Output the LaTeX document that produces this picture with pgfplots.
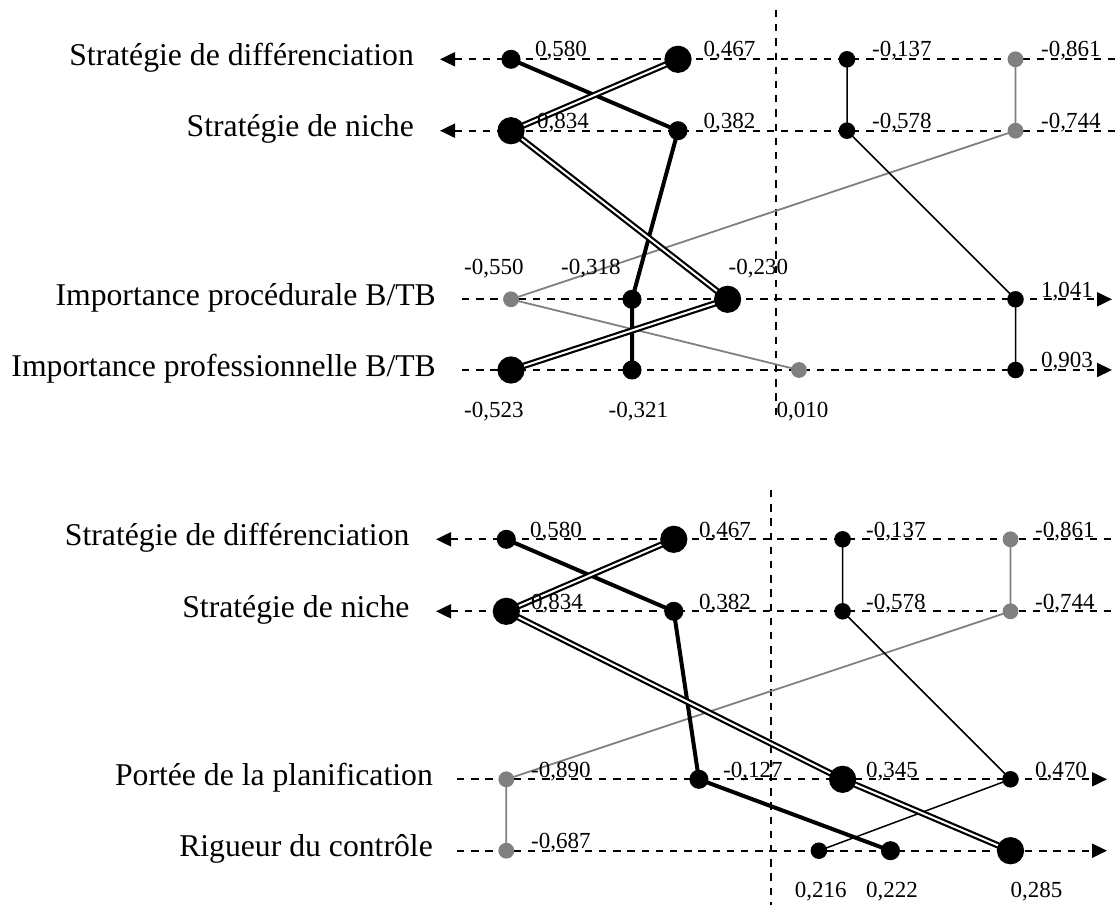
\documentclass[border=0pt]{standalone}
\usepackage{fontspec}
\setmainfont{Liberation Serif}
\usepackage{pgfplots}
\pgfplotsset{compat=1.18}
\usetikzlibrary{arrows.meta}
\definecolor{mgray}{RGB}{128,128,128}
\tikzset{
  dl/.style={line width=2bp, dash pattern=on 7.3bp off 6.9bp},
  arr/.style={-{Triangle[length=15bp,width=14bp]}},
  rarr/.style={{Triangle[length=15bp,width=14bp]}-},
  lab/.style={font=\fontsize{31.7bp}{36bp}\selectfont, anchor=base east, inner sep=0pt},
  num/.style={font=\fontsize{23bp}{26bp}\selectfont, anchor=base west, inner sep=0pt},
}
\begin{document}
\begin{tikzpicture}
\begin{axis}[
  width=1115bp, height=905bp, scale only axis,
  xmin=0, xmax=1115, ymin=0, ymax=905, y dir=reverse,
  hide axis, clip=false,
]
% ---------- top panel: guide lines ----------
\draw[dl, rarr] (axis cs:440,59.3) -- (axis cs:1115,59.3);
\draw[dl, rarr] (axis cs:440,130.7) -- (axis cs:1115,130.7);
\draw[dl, arr] (axis cs:462,299.3) -- (axis cs:1112,299.3);
\draw[dl, arr] (axis cs:462,370) -- (axis cs:1112,370);
\draw[dl] (axis cs:775.5,10) -- (axis cs:775.5,420);
% ---------- bottom panel: guide lines ----------
\draw[dl, rarr] (axis cs:436,539.3) -- (axis cs:1115,539.3);
\draw[dl, rarr] (axis cs:436,611.3) -- (axis cs:1115,611.3);
\draw[dl, arr] (axis cs:457,779.3) -- (axis cs:1107,779.3);
\draw[dl, arr] (axis cs:457,850.7) -- (axis cs:1107,850.7);
\draw[dl] (axis cs:770.5,490) -- (axis cs:770.5,905);

% ---------- top panel series ----------
\addplot[mgray, line width=1.8bp, mark=*, mark size=7bp, mark options={draw=none, fill=mgray}]
  coordinates {(1015.5,59.3) (1015.5,130.7) (511,299.3) (799,370)};
\addplot[black, line width=1.5bp, mark=*, mark size=7.5bp, mark options={draw=none, fill=black}]
  coordinates {(847,59.3) (847,130.7) (1015.5,299.3) (1015.5,370)};
\addplot[black, line width=4bp, mark=*, mark size=7.5bp, mark options={draw=none, fill=black}]
  coordinates {(511,59.3) (678,130.7) (632,299.3) (632,370)};
\addplot[black, line width=2.2bp, double=white, double distance=2bp, mark=*, mark size=12.5bp, mark options={draw=none, fill=black}]
  coordinates {(678,59.3) (511,130.7) (727.6,299.3) (511,370)};

% ---------- bottom panel series ----------
\addplot[mgray, line width=1.8bp, mark=*, mark size=7bp, mark options={draw=none, fill=mgray}]
  coordinates {(1010.5,539.3) (1010.5,611.3) (506.3,779.3) (506.3,850.7)};
\addplot[black, line width=1.5bp, mark=*, mark size=7.5bp, mark options={draw=none, fill=black}]
  coordinates {(842.6,539.3) (842.6,611.3) (1010.5,779.3) (818.9,850.7)};
\addplot[black, line width=4bp, mark=*, mark size=7.5bp, mark options={draw=none, fill=black}]
  coordinates {(506.3,539.3) (673.8,611.3) (698.9,779.3) (890.5,850.7)};
\addplot[black, line width=2.2bp, double=white, double distance=2bp, mark=*, mark size=12.5bp, mark options={draw=none, fill=black}]
  coordinates {(673.8,539.3) (506.3,611.3) (842.6,779.3) (1010.5,850.7)};

% ---------- row labels ----------
\node[lab] at (axis cs:414,65.3) {Stratégie de différenciation};
\node[lab] at (axis cs:414,136.7) {Stratégie de niche};
\node[lab] at (axis cs:436,305.3) {Importance procédurale B/TB};
\node[lab] at (axis cs:436,376) {Importance professionnelle B/TB};
\node[lab] at (axis cs:409.6,545.3) {Stratégie de différenciation};
\node[lab] at (axis cs:409.6,617.3) {Stratégie de niche};
\node[lab] at (axis cs:433,785.3) {Portée de la planification};
\node[lab] at (axis cs:433,856.7) {Rigueur du contrôle};

% ---------- value labels, top ----------
\node[num] at (axis cs:535,57) {0,580};
\node[num] at (axis cs:703.5,57) {0,467};
\node[num] at (axis cs:872,57) {-0,137};
\node[num] at (axis cs:1041,57) {-0,861};
\node[num] at (axis cs:537,128.4) {0,834};
\node[num] at (axis cs:703.5,128.4) {0,382};
\node[num] at (axis cs:872,128.4) {-0,578};
\node[num] at (axis cs:1041,128.4) {-0,744};
\node[num] at (axis cs:464,274.4) {-0,550};
\node[num] at (axis cs:561,274.4) {-0,318};
\node[num] at (axis cs:728.5,274.4) {-0,230};
\node[num] at (axis cs:1041,297) {1,041};
\node[num] at (axis cs:1041,367.7) {0,903};
\node[num] at (axis cs:464,417.5) {-0,523};
\node[num] at (axis cs:608.5,417.5) {-0,321};
\node[num] at (axis cs:776.5,417.5) {0,010};
% ---------- value labels, bottom ----------
\node[num] at (axis cs:530,537) {0,580};
\node[num] at (axis cs:699,537) {0,467};
\node[num] at (axis cs:866,537) {-0,137};
\node[num] at (axis cs:1035,537) {-0,861};
\node[num] at (axis cs:531,609) {0,834};
\node[num] at (axis cs:699,609) {0,382};
\node[num] at (axis cs:866,609) {-0,578};
\node[num] at (axis cs:1035,609) {-0,744};
\node[num] at (axis cs:531,777.5) {-0,890};
\node[num] at (axis cs:723,777.5) {-0,127};
\node[num] at (axis cs:866,777.5) {0,345};
\node[num] at (axis cs:1035,777.5) {0,470};
\node[num] at (axis cs:531,848.7) {-0,687};
\node[num] at (axis cs:794.7,897) {0,216};
\node[num] at (axis cs:866,897) {0,222};
\node[num] at (axis cs:1010.5,897) {0,285};
\end{axis}
\pgfresetboundingbox
\path[use as bounding box] (0,0) rectangle (1115bp,905bp);
\end{tikzpicture}
\end{document}
